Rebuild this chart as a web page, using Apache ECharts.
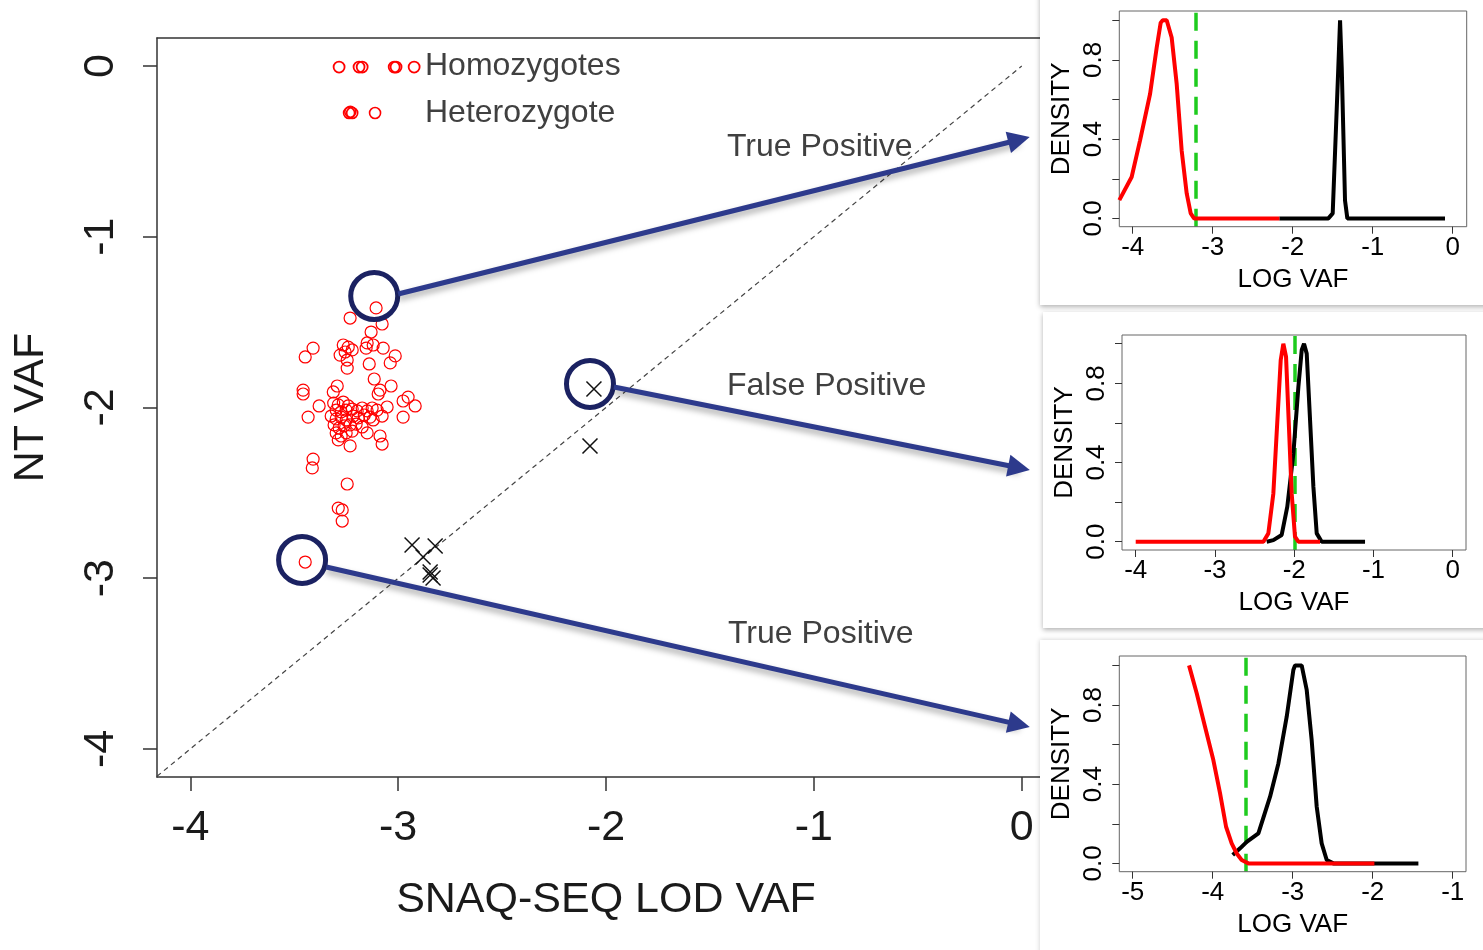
<!DOCTYPE html>
<html><head><meta charset="utf-8">
<script src="https://cdn.jsdelivr.net/npm/echarts@6/dist/echarts.min.js"></script>
<style>html,body{margin:0;padding:0;background:#fff}#c{width:1483px;height:950px}</style>
</head><body><div id="c"></div>
<script>
// ---------- main scatter data (x = SNAQ-SEQ LOD VAF, y = NT VAF) ----------
const mainTicks = [-4, -3, -2, -1, 0];
const homozygotePoints = [[-3.284,-0.006],[-3.188,-0.006],[-3.173,-0.006],[-3.019,-0.006],[-3.010,-0.006],[-2.923,-0.006]];
const heterozygotePoints = [[-3.236,-0.275],[-3.221,-0.275],[-3.230,-0.268],[-3.111,-0.275]];
const mutationPoints = [
  [-3.106,-1.417],[-3.231,-1.476],[-3.077,-1.511],[-3.130,-1.558],[-3.149,-1.622],[-3.120,-1.634],
  [-3.154,-1.652],[-3.072,-1.652],[-3.264,-1.634],[-3.240,-1.646],[-3.255,-1.675],[-3.221,-1.663],
  [-3.279,-1.693],[-3.245,-1.722],[-3.409,-1.652],[-3.447,-1.704],[-3.014,-1.698],[-3.038,-1.739],
  [-3.139,-1.745],[-3.245,-1.769],[-3.115,-1.833],[-3.034,-1.874],[-3.087,-1.898],[-3.096,-1.921],
  [-3.457,-1.898],[-3.457,-1.921],[-3.293,-1.874],[-3.312,-1.909],[-2.952,-1.939],[-2.976,-1.962],
  [-2.918,-1.991],[-3.380,-1.991],[-3.433,-2.056],[-3.077,-2.050],[-2.976,-2.056],[-3.087,-2.167],
  [-3.077,-2.214],[-3.231,-2.225],[-3.149,-2.149],[-3.288,-2.190],[-3.409,-2.302],[-3.413,-2.354],
  [-3.245,-2.448],[-3.288,-2.589],[-3.269,-2.600],[-3.269,-2.665],[-3.447,-2.905],
  [-3.310,-1.974],[-3.288,-1.985],[-3.264,-1.968],[-3.240,-1.991],[-3.298,-2.015],[-3.274,-2.026],
  [-3.250,-2.015],[-3.221,-2.009],[-3.197,-2.020],[-3.173,-2.003],[-3.149,-2.020],[-3.125,-2.003],
  [-3.101,-2.015],[-3.322,-2.050],[-3.298,-2.067],[-3.274,-2.056],[-3.250,-2.073],[-3.216,-2.050],
  [-3.192,-2.061],[-3.163,-2.044],[-3.135,-2.056],[-3.308,-2.102],[-3.284,-2.120],[-3.260,-2.108],
  [-3.231,-2.102],[-3.202,-2.097],[-3.173,-2.114],[-3.298,-2.149],[-3.274,-2.167],[-3.250,-2.149],
  [-3.221,-2.138],[-3.120,-2.073],[-3.053,-1.997]
];
const falsePoints = [[-2.933,-2.805],[-2.822,-2.811],[-2.880,-2.876],[-2.846,-2.963],[-2.832,-2.999],[-2.846,-2.981],[-2.058,-1.892],[-2.077,-2.225]];
const diagonal = [[-4.16,-4.16],[0,0]];
const highlighted = [[-3.115,-1.347],[-2.077,-1.862],[-3.462,-2.893]];
const arrowSegments = [
  [[-3.000,-1.335],[-0.013,-0.432]],
  [[-1.962,-1.880],[-0.013,-2.353]],
  [[-3.346,-2.934],[-0.013,-3.857]]
];
const annotations = ['True Positive','False Positive','True Positive'];

// ---------- inset density curves ----------
const densTicks = [0, 0.2, 0.4, 0.6, 0.8, 1.0];
const densLabels = [0, 0.4, 0.8];
const panel1X = [-4, -3, -2, -1, 0];
const panel2X = [-4, -3, -2, -1, 0];
const panel3X = [-5, -4, -3, -2, -1];
const red1 = [[-4.167,0.092],[-4.013,0.209],[-3.908,0.394],[-3.783,0.628],[-3.700,0.863],[-3.650,0.988],[-3.625,1.0],[-3.575,1.0],[-3.513,0.913],[-3.450,0.678],[-3.388,0.343],[-3.325,0.126],[-3.275,0.025],[-3.233,0],[-2.167,0]];
const black1 = [[-2.167,0],[-1.554,0],[-1.500,0.025],[-1.430,0.76],[-1.408,1.0],[-1.387,0.76],[-1.346,0.09],[-1.317,0],[-0.096,0]];
const red2 = [[-4.0,0],[-2.389,0],[-2.326,0.042],[-2.263,0.244],[-2.212,0.615],[-2.170,0.918],[-2.137,1.0],[-2.103,0.935],[-2.070,0.615],[-2.032,0.244],[-1.990,0.025],[-1.948,0],[-1.674,0]];
const black2 = [[-2.347,0],[-2.263,0.008],[-2.158,0.034],[-2.087,0.177],[-2.010,0.446],[-1.947,0.783],[-1.905,0.968],[-1.876,1.0],[-1.842,0.95],[-1.800,0.615],[-1.758,0.278],[-1.716,0.042],[-1.653,0],[-1.106,0]];
const red3 = [[-4.296,1.0],[-4.200,0.859],[-4.096,0.690],[-3.992,0.522],[-3.908,0.354],[-3.833,0.185],[-3.763,0.101],[-3.700,0.050],[-3.638,0.017],[-3.554,0],[-1.979,0]];
const black3 = [[-3.750,0.042],[-3.658,0.076],[-3.575,0.109],[-3.429,0.152],[-3.283,0.337],[-3.179,0.505],[-3.075,0.741],[-2.992,0.977],[-2.971,1.0],[-2.888,1.0],[-2.825,0.876],[-2.763,0.623],[-2.700,0.286],[-2.638,0.101],[-2.575,0.017],[-2.492,0],[-1.429,0]];
const thresholds = [-3.208, -1.99, -3.59];

const FONT = '"Liberation Sans", Arial, sans-serif';
const chart = echarts.init(document.getElementById('c'), null, {renderer: 'canvas'});

const insetGrids = [
  {left: 1119.3, top: 11, width: 347.4, height: 215.7},
  {left: 1122, top: 335, width: 344, height: 215},
  {left: 1119.3, top: 656, width: 346.7, height: 215.7}
];
const insetXRange = [[-4.1675, 0.175], [-4.173, 0.168], [-5.1675, -0.834]];
const insetYRange = [[-0.042, 1.047], [-0.042, 1.044], [-0.042, 1.0475]];
const insetXTicks = [panel1X, panel2X, panel3X];
const curvesRed = [red1, red2, red3];
const curvesBlack = [black1, black2, black3];

const axisCol = '#333';
const grids = [{left: 157, top: 38, width: 898, height: 739, show: false}];
insetGrids.forEach(g => grids.push(Object.assign({show: true, borderColor: '#666', borderWidth: 1, backgroundColor: 'transparent', z: 10}, g)));

const xAxes = [
  {gridIndex: 0, type: 'value', min: -4.16, max: 0.16, position: 'bottom',
   axisLine: {show: true, onZero: false, lineStyle: {color: axisCol, width: 1.5}},
   axisTick: {show: true, customValues: mainTicks, length: 14, lineStyle: {color: axisCol, width: 1.5}},
   axisLabel: {customValues: mainTicks, fontSize: 43, fontFamily: FONT, color: '#1a1a1a', margin: 30},
   splitLine: {show: false},
   name: 'SNAQ-SEQ LOD VAF', nameLocation: 'middle', nameGap: 102,
   nameTextStyle: {fontSize: 43, fontFamily: FONT, color: '#1a1a1a'}},
  {gridIndex: 0, type: 'value', min: -4.16, max: 0.16, position: 'top',
   axisLine: {show: true, onZero: false, lineStyle: {color: axisCol, width: 1.5}},
   axisTick: {show: false}, axisLabel: {show: false}, splitLine: {show: false}}
];
const yAxes = [
  {gridIndex: 0, type: 'value', min: -4.164, max: 0.164, position: 'left',
   axisLine: {show: true, onZero: false, lineStyle: {color: axisCol, width: 1.5}},
   axisTick: {show: true, customValues: mainTicks, length: 14, lineStyle: {color: axisCol, width: 1.5}},
   axisLabel: {customValues: mainTicks, rotate: 90, fontSize: 43, fontFamily: FONT, color: '#1a1a1a', margin: 34},
   splitLine: {show: false},
   name: 'NT VAF', nameLocation: 'middle', nameGap: 104,
   nameTextStyle: {fontSize: 43, fontFamily: FONT, color: '#1a1a1a'}}
];
insetGrids.forEach((g, i) => {
  xAxes.push({gridIndex: i + 1, type: 'value', min: insetXRange[i][0], max: insetXRange[i][1], position: 'bottom', z: 11,
    axisLine: {show: false, onZero: false},
    axisTick: {show: true, customValues: insetXTicks[i], length: 7, lineStyle: {color: axisCol}},
    axisLabel: {customValues: insetXTicks[i], fontSize: 26, fontFamily: FONT, color: '#000', margin: 8},
    splitLine: {show: false},
    name: 'LOG VAF', nameLocation: 'middle', nameGap: 40,
    nameTextStyle: {fontSize: 26, fontFamily: FONT, color: '#000'}});
  yAxes.push({gridIndex: i + 1, type: 'value', min: insetYRange[i][0], max: insetYRange[i][1], position: 'left', z: 11,
    axisLine: {show: false, onZero: false},
    axisTick: {show: true, customValues: densTicks, length: 7, lineStyle: {color: axisCol}},
    axisLabel: {customValues: densLabels, rotate: 90, fontSize: 26, fontFamily: FONT, color: '#000', margin: 12,
      formatter: v => Number(v).toFixed(1)},
    splitLine: {show: false},
    name: 'DENSITY', nameLocation: 'middle', nameGap: 44,
    nameTextStyle: {fontSize: 26, fontFamily: FONT, color: '#000'}});
});

const redStyle = w => ({color: 'rgba(0,0,0,0)', borderColor: '#ff0000', borderWidth: w, opacity: 1});
const series = [
  {type: 'line', xAxisIndex: 0, yAxisIndex: 0, data: diagonal, symbol: 'none', z: 1,
   lineStyle: {color: '#444', width: 1.2, type: [5, 4]}},
  {type: 'scatter', name: 'Homozygotes', xAxisIndex: 0, yAxisIndex: 0, data: homozygotePoints, z: 3,
   symbol: 'circle', symbolSize: 11, itemStyle: redStyle(1.8)},
  {type: 'scatter', name: 'Heterozygote', xAxisIndex: 0, yAxisIndex: 0, data: heterozygotePoints, z: 3,
   symbol: 'circle', symbolSize: 11, itemStyle: redStyle(1.6)},
  {type: 'scatter', name: 'Mutations', xAxisIndex: 0, yAxisIndex: 0, data: mutationPoints, z: 3,
   symbol: 'circle', symbolSize: 12, itemStyle: redStyle(1.2)},
  {type: 'scatter', name: 'Non-mutated', xAxisIndex: 0, yAxisIndex: 0, data: falsePoints, z: 3,
   symbol: 'path://M0,0L10,10M10,0L0,10', symbolSize: 15,
   itemStyle: {color: 'none', borderColor: '#111', borderWidth: 1.5, opacity: 1}},
  {type: 'scatter', name: 'Highlighted', xAxisIndex: 0, yAxisIndex: 0, data: highlighted, z: 4,
   symbol: 'circle', symbolSize: 47,
   itemStyle: {color: 'rgba(0,0,0,0)', borderColor: '#1b2262', borderWidth: 5, opacity: 1},
   markLine: {silent: true, symbol: ['none', 'triangle'], symbolSize: 22, animation: false,
     label: {show: false},
     lineStyle: {color: '#2d3a8c', width: 5, type: 'solid', opacity: 1, shadowColor: 'rgba(0,0,0,0.35)', shadowBlur: 6, shadowOffsetY: 4},
     data: arrowSegments.map(s => [{coord: s[0]}, {coord: s[1]}])}}
];
insetGrids.forEach((g, i) => {
  series.push({type: 'line', xAxisIndex: i + 2, yAxisIndex: i + 1, data: curvesBlack[i], symbol: 'none', z: 12,
    lineStyle: {color: '#000', width: 4}});
  series.push({type: 'line', xAxisIndex: i + 2, yAxisIndex: i + 1, data: curvesRed[i], symbol: 'none', z: 13,
    lineStyle: {color: '#ff0000', width: 4}});
  series.push({type: 'line', xAxisIndex: i + 2, yAxisIndex: i + 1, data: [], symbol: 'none', z: 14,
    markLine: {silent: true, symbol: ['none', 'none'], label: {show: false}, animation: false,
      lineStyle: {color: '#1ecb1e', width: 3.5, type: [18, 10], opacity: 1},
      data: [{xAxis: thresholds[i]}]}});
});

const annStyle = {font: '32px ' + FONT, fill: '#404040', verticalAlign: 'middle', align: 'left'};
const graphic = [
  {type: 'rect', z: 5, shape: {x: 1040, y: -10, width: 460, height: 315},
   style: {fill: '#fff', shadowBlur: 5, shadowColor: 'rgba(0,0,0,0.3)', shadowOffsetY: 2}},
  {type: 'rect', z: 5, shape: {x: 1043, y: 312, width: 460, height: 316},
   style: {fill: '#fff', shadowBlur: 5, shadowColor: 'rgba(0,0,0,0.3)', shadowOffsetY: 2}},
  {type: 'rect', z: 5, shape: {x: 1040, y: 640, width: 460, height: 330},
   style: {fill: '#fff', shadowBlur: 5, shadowColor: 'rgba(0,0,0,0.2)', shadowOffsetY: 0}},
  {type: 'text', z: 20, style: Object.assign({text: 'Homozygotes', x: 425, y: 66}, annStyle)},
  {type: 'text', z: 20, style: Object.assign({text: 'Heterozygote', x: 425, y: 113}, annStyle)},
  {type: 'text', z: 20, style: Object.assign({text: annotations[0], x: 727, y: 147}, annStyle)},
  {type: 'text', z: 20, style: Object.assign({text: annotations[1], x: 727, y: 386}, annStyle)},
  {type: 'text', z: 20, style: Object.assign({text: annotations[2], x: 728, y: 634}, annStyle)}
];

chart.setOption({
  animation: false,
  backgroundColor: '#fff',
  textStyle: {fontFamily: FONT},
  grid: grids,
  xAxis: xAxes,
  yAxis: yAxes,
  series: series,
  graphic: graphic
});
</script></body></html>
